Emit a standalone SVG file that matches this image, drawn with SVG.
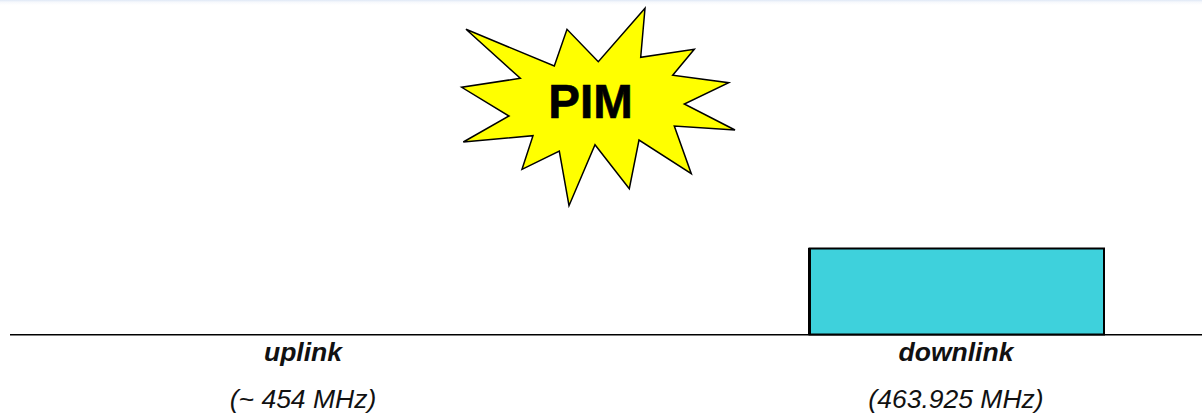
<svg xmlns="http://www.w3.org/2000/svg" width="1202" height="413" viewBox="0 0 1202 413">
<defs>
<linearGradient id="topfade" x1="0" y1="0" x2="0" y2="1">
<stop offset="0" stop-color="#dfe8f6"/>
<stop offset="0.4" stop-color="#f6f8fc"/>
<stop offset="1" stop-color="#ffffff"/>
</linearGradient>
</defs>
<style>
.lbl{font-family:"Liberation Sans",Arial,sans-serif;font-style:italic;font-size:26.5px;fill:#111;text-anchor:middle}
.b{font-weight:bold}
</style>
<rect width="1202" height="413" fill="#ffffff"/>
<rect width="1202" height="5" fill="url(#topfade)"/>
<g id="pim-burst">
<polygon points="466,29.3 554.3,66 567,29.3 598.3,61.7 645,8.3 640.7,57.3 694.3,49.3 672.7,75.3 728.7,82.7 684.3,104 735,130 674.3,126 691.3,173.7 639,140 629.3,188.7 595,144.7 569,205.7 559.3,151 522,169.3 533,135.7 463.3,142 509,116 461.7,87.3 520.3,78.3" fill="#ffff00" stroke="#000" stroke-width="1.5" stroke-linejoin="miter"/>
<text x="590.5" y="118" font-family="'Liberation Sans',Arial,sans-serif" font-weight="bold" font-size="47.5px" fill="#000" stroke="#000" stroke-width="0.6" text-anchor="middle">PIM</text>
</g>
<g id="downlink-band">
<rect x="809.5" y="248.5" width="294.5" height="86" fill="#3ed1dc" stroke="#000" stroke-width="2"/>
<line x1="809.5" y1="248" x2="809.5" y2="335" stroke="#000" stroke-width="3"/>
</g>
<g id="connectors">
<line x1="10" y1="334.7" x2="1202" y2="334.7" stroke="#000" stroke-width="1.6"/>
</g>
<g id="uplink-label">
<text class="lbl b" x="303" y="361">uplink</text>
<text class="lbl" x="303" y="408">(~ 454 MHz)</text>
</g>
<g id="downlink-label">
<text class="lbl b" x="956" y="361">downlink</text>
<text class="lbl" x="956" y="408">(463.925 MHz)</text>
</g>
</svg>
